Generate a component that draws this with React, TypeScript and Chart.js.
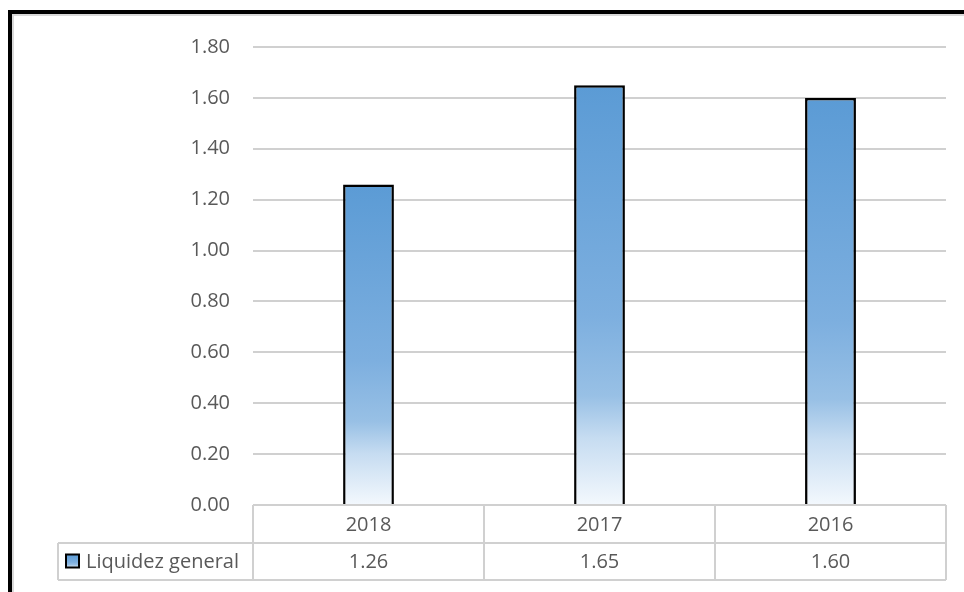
import React, { useEffect, useRef } from "react";
import { Chart, registerables } from "chart.js";

Chart.register(...registerables);

const categories: string[] = ["2018", "2017", "2016"];
const seriesName = "Liquidez general";
const liquidez: number[] = [1.26, 1.65, 1.6];
const yTicks = { min: 0, max: 1.8, step: 0.2 };

const FONT = '"Open Sans", "Liberation Sans", sans-serif';
const TEXT = "#595959";
const LINE = "#D0D0D0";

function barGradient(c: CanvasRenderingContext2D, top: number, bottom: number) {
  const g = c.createLinearGradient(0, top, 0, bottom);
  g.addColorStop(0, "#5B9BD5");
  g.addColorStop(0.55, "#7DAFDF");
  g.addColorStop(0.74, "#98C0E5");
  g.addColorStop(0.84, "#C6DCF1");
  g.addColorStop(1, "#F3F8FD");
  return g;
}

const tablePlugin = {
  id: "tablePlugin",
  afterDraw(chart: any) {
    const c: CanvasRenderingContext2D = chart.ctx;
    const area = chart.chartArea;
    const xs = chart.scales.x;
    const W = chart.width;
    const H = chart.height;
    c.save();
    // outer frame
    c.fillStyle = "#000";
    c.fillRect(8, 10, W, 4);
    c.fillRect(8, 10, 4, H);
    c.fillStyle = "#D9D9D9";
    c.fillRect(12, 14, W, 2);
    c.fillRect(12, 14, 2, H);

    const n = categories.length;
    const cw = (area.right - area.left) / n;
    const r0 = area.bottom;
    const r1 = r0 + 38;
    const r2 = r1 + 37;
    const legLeft = 58;
    c.strokeStyle = LINE;
    c.lineWidth = 2;
    c.beginPath();
    c.moveTo(area.left, r0); c.lineTo(area.right, r0);
    c.moveTo(legLeft, r1); c.lineTo(area.right, r1);
    c.moveTo(legLeft, r2); c.lineTo(area.right, r2);
    for (let i = 0; i <= n; i++) {
      const x = area.left + i * cw;
      c.moveTo(x, r0); c.lineTo(x, r2);
    }
    c.moveTo(legLeft, r1); c.lineTo(legLeft, r2);
    c.stroke();

    c.fillStyle = TEXT;
    c.font = `20px ${FONT}`;
    c.textAlign = "center";
    c.textBaseline = "middle";
    categories.forEach((cat, i) => {
      const x = xs.getPixelForValue(i);
      c.fillText(cat, x, (r0 + r1) / 2 + 1);
      c.fillText(liquidez[i].toFixed(2), x, (r1 + r2) / 2 + 1);
    });
    // legend key
    const ky = (r1 + r2) / 2 - 7;
    c.fillStyle = barGradient(c, ky, ky + 14);
    c.fillRect(66, ky, 13, 13);
    c.strokeStyle = "#000";
    c.lineWidth = 2;
    c.strokeRect(66, ky, 13, 13);
    c.fillStyle = TEXT;
    c.textAlign = "left";
    c.fillText(seriesName, 86, (r1 + r2) / 2 + 1);
    c.restore();
  },
};

export default function App() {
  const ref = useRef<HTMLCanvasElement>(null);
  useEffect(() => {
    if (!ref.current) return;
    const chart = new Chart(ref.current, {
      type: "bar",
      data: {
        labels: categories,
        datasets: [
          {
            label: seriesName,
            data: liquidez,
            backgroundColor: (ctx: any) => {
              const ch = ctx.chart;
              if (!ch.chartArea || typeof ctx.raw !== "number") return "#5B9BD5";
              const ys = ch.scales.y;
              return barGradient(ch.ctx, ys.getPixelForValue(ctx.raw), ys.getPixelForValue(0));
            },
            borderColor: "#000000",
            borderWidth: 2.5,
            categoryPercentage: 1,
            barPercentage: 0.22,
          },
        ],
      },
      options: {
        responsive: false,
        animation: false,
        layout: { padding: { left: 0, right: 18, top: 47, bottom: 87 } },
        plugins: { legend: { display: false }, tooltip: { enabled: false } },
        scales: {
          x: { display: false },
          y: {
            min: yTicks.min,
            max: yTicks.max,
            border: { display: false },
            grid: { color: LINE, lineWidth: 2, drawTicks: false },
            ticks: {
              stepSize: yTicks.step,
              padding: 23,
              color: TEXT,
              font: { family: FONT, size: 20 },
              callback: (v: any) => Number(v).toFixed(2),
            },
            afterFit: (s: any) => {
              s.width = 253;
            },
          },
        },
      },
      plugins: [tablePlugin],
    });
    return () => chart.destroy();
  }, []);
  return (
    <div style={{ position: "absolute", left: 0, top: 0, width: 964, height: 592, background: "#fff" }}>
      <canvas ref={ref} width={964} height={592} style={{ display: "block" }} />
    </div>
  );
}
